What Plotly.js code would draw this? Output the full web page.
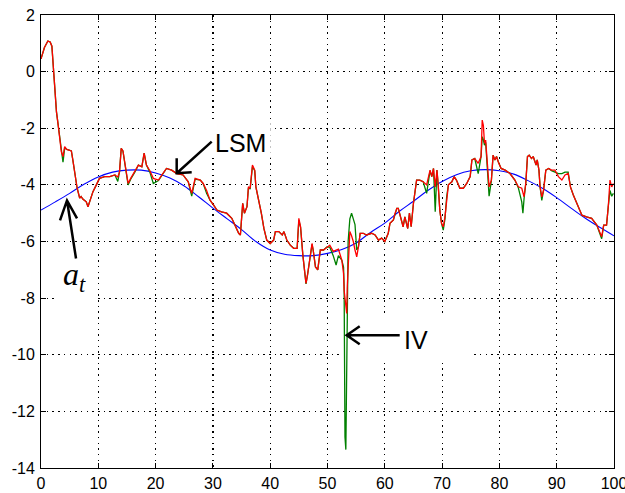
<!DOCTYPE html>
<html>
<head>
<meta charset="utf-8">
<script src="https://cdn.plot.ly/plotly-3.0.1.min.js"></script>
<style>html,body{margin:0;padding:0;background:#fff;}#chart{width:625px;height:493px;}</style>
</head>
<body>
<div id="chart"></div>
<script>
// time axis shared by the two noisy estimates
const t = [
  0,0.6,1.2,1.6,1.9,2.1,2.4,2.7,3.0,3.26,
  3.55,3.84,4.13,4.5,4.9,5.3,5.6,5.9,6.3,6.75,
  7.0,7.3,7.6,7.9,8.2,8.67,9.07,9.66,10.2,11.1,
  12.0,12.9,13.4,13.7,14.0,14.3,14.7,15.0,15.2,15.65,
  16.0,16.4,17.0,17.6,18.0,18.4,19.0,19.6,20.5,21.1,
  21.9,22.8,23.7,24.8,25.7,26.3,26.9,27.8,28.3,28.9,
  29.5,30.1,30.7,31.5,32.4,33.3,33.9,34.5,34.8,35.2,
  35.5,35.95,36.2,36.5,36.9,37.3,37.5,38.0,38.45,38.9,
  39.4,40.0,40.6,40.9,41.5,42.1,42.4,42.9,43.5,44.1,
  44.7,45.0,45.3,45.7,46.0,46.25,46.5,46.9,47.3,47.5,
  47.9,48.3,48.75,49.3,49.9,50.4,51.0,51.5,51.9,52.5,
  52.8,52.9,53.05,53.2,53.35,53.45,53.6,53.9,54.2,54.5,
  54.8,55.1,55.4,55.7,56.25,56.8,57.7,58.3,58.9,59.45,
  60.0,60.6,60.9,61.5,61.8,62.1,62.35,62.9,63.2,63.5,
  64.0,64.3,64.6,65.0,65.3,65.55,66.1,66.7,67.3,67.9,
  68.2,68.5,68.8,69.1,69.3,69.6,69.9,70.2,70.5,70.8,
  71.1,71.7,72.1,72.5,73.1,73.7,74.3,74.9,75.2,75.7,
  76.3,76.8,77.0,77.2,77.4,77.6,77.95,78.2,78.6,78.9,
  79.2,79.5,79.8,80.3,81.0,81.85,82.7,83.3,83.9,84.1,
  84.3,84.6,84.9,85.2,85.6,85.9,86.4,86.6,86.9,87.1,
  87.4,87.7,88.1,88.6,89.1,89.7,90.3,90.9,91.45,92.0,
  92.4,92.9,93.3,93.8,94.4,95.2,96.1,97.0,97.55,97.85,
  98.2,98.7,99.0,99.3,99.6,99.9
];

// LSM estimate (red)
const lsm = [
  0.45,0.85,1.08,1.05,0.9,0.23,-0.71,-1.42,-1.89,-2.35,
  -2.83,-3.0,-2.65,-2.75,-2.77,-2.8,-3.18,-3.65,-4.11,-4.47,
  -4.41,-4.5,-4.54,-4.6,-4.77,-4.48,-4.24,-4.0,-3.77,-3.71,
  -3.71,-3.65,-3.72,-3.54,-2.71,-2.8,-3.3,-3.7,-3.95,-3.77,
  -3.65,-3.54,-3.3,-3.36,-2.88,-3.3,-3.5,-3.77,-3.83,-3.65,
  -3.42,-3.48,-3.6,-3.65,-3.89,-4.3,-3.77,-3.83,-3.95,-4.2,
  -4.54,-4.71,-4.89,-4.95,-5.0,-5.18,-5.48,-5.71,-5.77,-4.65,
  -5.0,-4.77,-4.07,-4.12,-3.3,-3.48,-4.07,-4.54,-5.0,-5.54,
  -5.95,-6.07,-5.95,-5.65,-5.65,-5.77,-5.65,-5.95,-6.13,-6.24,
  -6.24,-5.18,-5.48,-6.48,-7.1,-7.48,-7.2,-6.66,-6.07,-6.3,
  -6.9,-7.0,-6.3,-6.3,-6.19,-6.13,-6.35,-6.3,-6.27,-6.66,
  -7.13,-7.72,-7.95,-8.19,-8.54,-7.6,-6.9,-5.65,-5.8,-6.0,
  -6.3,-6.54,-6.19,-5.71,-5.71,-5.77,-5.71,-5.77,-5.95,-5.88,
  -6.0,-5.71,-5.36,-5.24,-5.0,-4.83,-4.83,-5.24,-5.48,-5.13,
  -5.54,-5.0,-5.48,-4.65,-4.07,-3.83,-3.83,-3.89,-4.0,-3.48,
  -3.71,-3.42,-4.07,-3.48,-3.95,-4.89,-5.36,-5.48,-5.13,-4.42,
  -4.0,-3.89,-3.71,-3.83,-4.12,-4.12,-3.95,-3.71,-3.12,-3.07,
  -3.24,-3.0,-1.71,-1.9,-2.53,-2.42,-3.6,-4.07,-3.83,-2.95,
  -3.12,-3.0,-3.18,-3.42,-3.48,-3.6,-3.83,-4.07,-4.12,-4.3,
  -4.42,-3.95,-3.0,-2.95,-3.07,-3.0,-3.3,-3.12,-3.48,-4.07,
  -4.42,-4.2,-3.48,-3.42,-3.48,-3.48,-3.71,-3.83,-3.65,-3.6,
  -4.07,-4.36,-4.54,-4.77,-5.07,-5.13,-5.18,-5.42,-5.65,-5.83,
  -5.42,-5.42,-4.77,-3.83,-4.07,-3.95
];

// IV estimate (green)
const iv = [
  0.45,0.85,1.08,1.05,0.9,0.23,-0.71,-1.42,-1.89,-2.35,
  -2.83,-3.2,-2.7,-2.75,-2.77,-2.8,-3.18,-3.65,-4.11,-4.47,
  -4.41,-4.5,-4.54,-4.6,-4.77,-4.48,-4.24,-4.0,-3.77,-3.71,
  -3.71,-3.65,-3.88,-3.54,-2.71,-2.8,-3.3,-3.75,-4.0,-3.8,
  -3.65,-3.54,-3.3,-3.36,-2.88,-3.3,-3.55,-3.95,-3.85,-3.65,
  -3.42,-3.48,-3.6,-3.65,-3.89,-4.4,-3.8,-3.83,-3.95,-4.3,
  -4.54,-4.71,-4.89,-4.95,-5.0,-5.18,-5.48,-5.71,-5.77,-4.65,
  -5.0,-4.77,-4.1,-4.15,-3.35,-3.5,-4.07,-4.54,-5.0,-5.54,
  -5.95,-6.07,-5.95,-5.65,-5.65,-5.77,-5.65,-5.95,-6.13,-6.24,
  -6.24,-5.25,-5.5,-6.48,-7.1,-7.5,-7.2,-6.66,-6.1,-6.3,
  -6.9,-7.0,-6.3,-6.3,-6.19,-6.2,-6.5,-6.83,-6.5,-6.66,
  -6.9,-7.6,-12.9,-13.35,-10.9,-8.5,-6.0,-5.2,-5.0,-5.2,
  -5.4,-6.3,-6.19,-5.71,-5.71,-5.77,-5.71,-5.77,-5.95,-5.88,
  -6.0,-5.71,-5.36,-5.24,-5.0,-4.83,-4.83,-5.24,-5.48,-5.13,
  -5.54,-5.0,-5.48,-4.65,-4.07,-3.83,-3.83,-3.89,-4.3,-3.5,
  -3.71,-3.42,-4.95,-3.48,-3.95,-4.89,-5.36,-5.6,-5.2,-4.42,
  -4.0,-3.89,-3.71,-3.83,-4.12,-4.12,-3.95,-3.71,-3.12,-3.07,
  -3.6,-3.0,-2.3,-2.4,-2.6,-2.5,-3.6,-4.4,-3.85,-2.95,
  -3.12,-3.0,-3.18,-3.42,-3.48,-3.6,-3.83,-4.1,-4.6,-5.0,
  -4.5,-3.95,-3.0,-2.95,-3.07,-3.0,-3.3,-3.12,-3.48,-4.07,
  -4.55,-4.2,-3.48,-3.42,-3.5,-3.55,-3.6,-3.6,-3.55,-3.55,
  -4.07,-4.36,-4.54,-4.77,-5.07,-5.13,-5.18,-5.42,-5.7,-5.9,
  -5.42,-5.42,-4.77,-4.2,-4.4,-4.3
];

// true parameter a_t (blue)
const trueX = [0,2.5,5,7.5,10,12.5,15,17.5,20,22.5,25,27.5,30,32.5,35,37.5,40,42.5,45,47.5,50,52.5,55,57.5,60,62.5,65,67.5,70,72.5,75,77.5,80,82.5,85,87.5,90,92.5,95,97.5,100];
const trueY = [-4.89,-4.6,-4.3,-3.98,-3.72,-3.55,-3.48,-3.48,-3.58,-3.76,-4.04,-4.42,-4.82,-5.2,-5.58,-6.0,-6.3,-6.45,-6.5,-6.5,-6.42,-6.28,-6.05,-5.68,-5.35,-4.94,-4.58,-4.2,-3.88,-3.64,-3.5,-3.46,-3.5,-3.62,-3.85,-4.12,-4.45,-4.82,-5.18,-5.5,-5.8];

const xTickVals = [0,10,20,30,40,50,60,70,80,90,100];
const yTickVals = [2,0,-2,-4,-6,-8,-10,-12,-14];
const yTickText = ['2','0','-2','-4','-6','-8','-10','-12','-14'];

const traces = [
  {x: trueX, y: trueY, mode: 'lines', line: {color: '#0000ff', width: 1.1, shape: 'spline'}, hoverinfo: 'skip'},
  {x: t, y: iv, mode: 'lines', line: {color: '#008000', width: 1.3}, hoverinfo: 'skip'},
  {x: t, y: lsm, mode: 'lines', line: {color: '#ff0000', width: 1.3}, hoverinfo: 'skip'}
];

const tickFont = {family: 'Liberation Sans, Arial, sans-serif', size: 16, color: '#000'};
const axisCommon = {
  showline: true, linecolor: '#000', linewidth: 1, mirror: 'ticks',
  ticks: 'inside', ticklen: 5, tickwidth: 1, tickcolor: '#000',
  showgrid: true, gridcolor: '#000', gridwidth: 1.2, griddash: '1.5px,4.2px',
  zeroline: false, tickfont: tickFont, fixedrange: true,
  ticklabeloverflow: 'allow', automargin: false
};

const arrowLine = {color: '#000', width: 2.5};
const layout = {
  width: 625, height: 493,
  margin: {l: 41, r: 11, t: 15, b: 25, pad: 0},
  paper_bgcolor: '#fff', plot_bgcolor: '#fff',
  showlegend: false,
  xaxis: Object.assign({}, axisCommon, {range: [0, 100], tickvals: xTickVals, ticklabelstandoff: 1}),
  yaxis: Object.assign({}, axisCommon, {range: [-14, 2], tickvals: yTickVals, ticktext: yTickText, ticklabelstandoff: 2}),
  shapes: [
    // white text backgrounds that break the grid
    {type: 'rect', layer: 'between', xref: 'x', yref: 'y', x0: 25.6, x1: 40.1, y0: -1.72, y1: -3.05, fillcolor: '#fff', line: {width: 0}},
    {type: 'rect', layer: 'between', xref: 'x', yref: 'y', x0: 52.3, x1: 75.4, y0: -8.53, y1: -10.19, fillcolor: '#fff', line: {width: 0}},
    {type: 'rect', layer: 'between', xref: 'x', yref: 'y', x0: 2.4, x1: 9.6, y0: -6.1, y1: -8.25, fillcolor: '#fff', line: {width: 0}},
    // arrows (anchored at their heads, drawn in pixels)
    {type: 'path', layer: 'above', xref: 'x', yref: 'y', xsizemode: 'pixel', ysizemode: 'pixel', xanchor: 23.68, yanchor: -3.59,
     path: 'M 35,31.6 L 0,0 M 15,1 L 0,0 L 0,15', line: arrowLine},
    {type: 'path', layer: 'above', xref: 'x', yref: 'y', xsizemode: 'pixel', ysizemode: 'pixel', xanchor: 53.35, yanchor: -9.31,
     path: 'M 53,0 L 0,0 M 13,9 L 0,0 L 13,-9', line: arrowLine},
    {type: 'path', layer: 'above', xref: 'x', yref: 'y', xsizemode: 'pixel', ysizemode: 'pixel', xanchor: 4.54, yanchor: -4.55,
     path: 'M 9,-58 L 0,0 M -7,-20 L 0,0 L 10,-18', line: arrowLine}
  ],
  annotations: [
    {x: 34.73, y: -2.53, xref: 'x', yref: 'y', text: 'LSM', showarrow: false,
     font: {family: 'Liberation Sans, Arial, sans-serif', size: 25, color: '#000'}},
    {x: 65.4, y: -9.48, xref: 'x', yref: 'y', text: 'IV', showarrow: false,
     font: {family: 'Liberation Sans, Arial, sans-serif', size: 25, color: '#000'}},
    {x: 5.9, y: -7.25, xref: 'x', yref: 'y', text: '<i>a</i><sub><i>t</i></sub>', showarrow: false,
     font: {family: 'Liberation Serif, DejaVu Serif, serif', size: 32, color: '#000'}}
  ]
};

Plotly.newPlot('chart', traces, layout, {staticPlot: true, displayModeBar: false});
</script>
</body>
</html>
